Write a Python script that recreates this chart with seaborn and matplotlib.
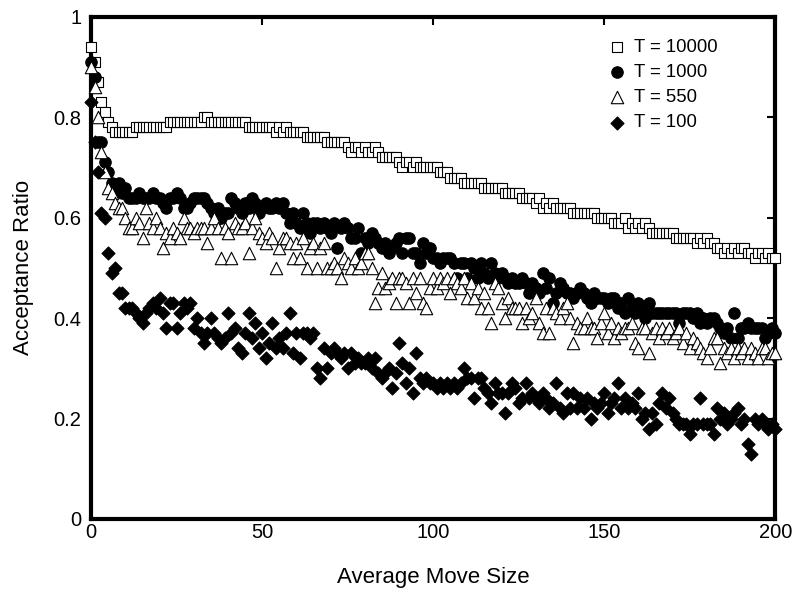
import numpy as np
import pandas as pd
import matplotlib
matplotlib.use('Agg')
import matplotlib.pyplot as plt
import seaborn as sns

# 데이터
move_size = list(range(0, 201))

ratio_t10000 = [
    .94, .91, .87, .83, .81, .79, .78, .77, .77, .77,
    .77, .77, .77, .78, .78, .78, .78, .78, .78, .78,
    .78, .78, .78, .79, .79, .79, .79, .79, .79, .79,
    .79, .79, .79, .80, .80, .79, .79, .79, .79, .79,
    .79, .79, .79, .79, .79, .79, .78, .78, .78, .78,
    .78, .78, .78, .78, .77, .78, .77, .78, .77, .77,
    .77, .77, .77, .76, .76, .76, .76, .76, .76, .75,
    .75, .75, .75, .75, .75, .74, .73, .74, .74, .73,
    .74, .73, .73, .74, .73, .72, .72, .72, .72, .72,
    .71, .70, .71, .71, .70, .71, .70, .70, .70, .70,
    .70, .70, .69, .69, .69, .68, .68, .68, .68, .67,
    .67, .67, .67, .67, .67, .66, .66, .66, .66, .66,
    .66, .65, .65, .65, .65, .65, .64, .64, .64, .64,
    .63, .64, .62, .63, .62, .63, .62, .62, .62, .62,
    .62, .61, .61, .61, .61, .61, .61, .61, .60, .60,
    .60, .60, .60, .59, .59, .59, .60, .58, .59, .58,
    .59, .58, .59, .58, .57, .57, .57, .57, .57, .57,
    .57, .56, .56, .56, .56, .56, .56, .55, .56, .55,
    .56, .55, .55, .54, .54, .53, .54, .53, .54, .53,
    .54, .54, .53, .53, .52, .53, .53, .52, .53, .52,
    .52]

ratio_t1000 = [
    .91, .88, .75, .75, .71, .69, .67, .66, .67, .65,
    .66, .64, .64, .64, .65, .64, .64, .64, .65, .64,
    .64, .63, .62, .64, .64, .65, .64, .62, .62, .63,
    .64, .64, .64, .64, .63, .62, .61, .62, .60, .61,
    .61, .64, .63, .62, .61, .63, .62, .64, .63, .61,
    .62, .63, .62, .62, .63, .62, .63, .61, .59, .61,
    .59, .58, .61, .59, .57, .59, .59, .58, .59, .58,
    .57, .59, .54, .58, .59, .58, .56, .56, .58, .53,
    .56, .55, .57, .56, .55, .54, .55, .53, .54, .55,
    .56, .53, .56, .56, .53, .53, .51, .55, .53, .54,
    .52, .52, .51, .52, .52, .52, .51, .48, .51, .51,
    .48, .51, .50, .48, .51, .49, .48, .51, .49, .48,
    .49, .48, .47, .48, .47, .47, .48, .47, .45, .47,
    .46, .45, .49, .46, .48, .43, .45, .47, .46, .45,
    .45, .44, .45, .46, .45, .44, .43, .45, .44, .44,
    .44, .43, .44, .44, .42, .43, .41, .44, .42, .41,
    .43, .42, .40, .43, .41, .41, .41, .41, .41, .41,
    .41, .41, .39, .41, .41, .41, .40, .41, .39, .40,
    .39, .40, .40, .39, .38, .37, .38, .36, .41, .36,
    .38, .38, .39, .38, .38, .38, .38, .36, .37, .38,
    .37]

ratio_t550 = [
    .90, .86, .80, .73, .69, .66, .65, .63, .62, .62,
    .60, .58, .58, .60, .59, .56, .62, .59, .58, .60,
    .58, .54, .57, .56, .58, .57, .56, .60, .58, .58,
    .57, .58, .58, .58, .55, .58, .60, .58, .52, .58,
    .57, .52, .59, .58, .58, .59, .53, .58, .60, .57,
    .56, .55, .57, .56, .50, .54, .56, .56, .55, .52,
    .55, .52, .56, .50, .54, .55, .50, .54, .55, .50,
    .50, .51, .50, .48, .52, .51, .50, .52, .50, .51,
    .53, .53, .50, .43, .46, .49, .46, .47, .48, .43,
    .48, .48, .47, .43, .48, .45, .48, .43, .42, .46,
    .48, .46, .48, .47, .48, .45, .48, .47, .46, .48,
    .44, .47, .44, .46, .42, .45, .42, .39, .47, .46,
    .43, .40, .44, .42, .42, .42, .39, .42, .40, .41,
    .44, .39, .37, .42, .37, .42, .41, .40, .42, .43,
    .40, .35, .39, .38, .38, .40, .38, .38, .36, .39,
    .41, .37, .39, .36, .38, .37, .38, .38, .39, .35,
    .34, .38, .38, .33, .37, .38, .36, .38, .37, .38,
    .36, .37, .38, .35, .37, .34, .36, .35, .34, .33,
    .32, .34, .36, .36, .31, .34, .33, .34, .32, .34,
    .33, .34, .32, .34, .33, .32, .34, .34, .32, .33,
    .33]

ratio_t100 = [
    .83, .75, .69, .61, .60, .53, .49, .50, .45, .45,
    .42, .42, .42, .41, .40, .39, .41, .42, .43, .42,
    .44, .41, .38, .43, .43, .38, .41, .43, .42, .43,
    .38, .40, .37, .35, .37, .40, .37, .36, .35, .36,
    .41, .37, .38, .34, .33, .37, .41, .36, .39, .34,
    .37, .32, .35, .39, .34, .36, .34, .37, .41, .33,
    .37, .32, .37, .37, .36, .37, .30, .28, .34, .30,
    .33, .34, .33, .32, .33, .30, .33, .31, .32, .31,
    .31, .32, .30, .32, .29, .28, .29, .30, .26, .29,
    .35, .31, .27, .30, .25, .33, .28, .27, .28, .27,
    .27, .26, .27, .26, .27, .26, .27, .26, .27, .30,
    .28, .28, .24, .28, .28, .26, .25, .23, .27, .25,
    .25, .21, .25, .27, .26, .23, .24, .27, .24, .25,
    .24, .23, .25, .24, .22, .23, .27, .22, .21, .25,
    .22, .25, .22, .24, .22, .24, .20, .23, .22, .23,
    .25, .21, .23, .24, .27, .22, .24, .22, .23, .22,
    .25, .20, .21, .18, .21, .19, .23, .25, .22, .24,
    .21, .20, .19, .19, .19, .17, .19, .19, .24, .19,
    .19, .19, .17, .22, .20, .21, .19, .20, .21, .22,
    .19, .20, .15, .13, .20, .19, .20, .19, .18, .19,
    .18]

labels = ['T = 10000', 'T = 1000', 'T = 550', 'T = 100']
x_ticks = [0, 50, 100, 150, 200]
y_ticks = [0, 0.2, 0.4, 0.6, 0.8, 1.0]
y_tick_labels = ['0', '0.2', '0.4', '0.6', '0.8', '1']

sns.set_theme(style='white')
plt.rcParams['font.family'] = ['Liberation Sans', 'DejaVu Sans']
plt.rcParams['text.color'] = 'black'
plt.rcParams['axes.labelcolor'] = 'black'

fig = plt.figure(figsize=(8, 6.02), dpi=100)
ax = fig.add_axes([0.114, 0.138, 0.855, 0.834])

# 마커 스타일: (마커, 채움색, 크기)
styles = [('s', 'white', 48), ('o', 'black', 68), ('^', 'white', 80), ('D', 'black', 44)]
series = [ratio_t10000, ratio_t1000, ratio_t550, ratio_t100]

for vals, lab, (mk, fc, sz) in zip(series, labels, styles):
    df = pd.DataFrame({'size': move_size, 'ratio': vals})
    sns.scatterplot(data=df, x='size', y='ratio', marker=mk, s=sz, color=fc,
                    edgecolor='black', linewidth=0.8, label=lab, ax=ax,
                    clip_on=False, zorder=3)

ax.set_xlim(0, 200)
ax.set_ylim(0, 1)
ax.set_xticks(x_ticks)
ax.set_yticks(y_ticks)
ax.set_yticklabels(y_tick_labels)
ax.set_xlabel('Average Move Size', fontsize=16, labelpad=18)
ax.set_ylabel('Acceptance Ratio', fontsize=16, labelpad=14)

for sp in ax.spines.values():
    sp.set_linewidth(3)
    sp.set_color('black')
    sp.set_zorder(2)

ax.tick_params(direction='in', length=6, width=1.5, top=True, right=True,
               labelsize=14.5, colors='black')
ax.tick_params(axis='x', pad=3)
ax.tick_params(axis='y', pad=7)

ax.legend(loc='upper right', bbox_to_anchor=(0.94, 0.99), frameon=False,
          fontsize=13.3, handlelength=1.0, handletextpad=0.4,
          labelspacing=0.45, scatterpoints=1)

fig.savefig('out.png', dpi=100)
